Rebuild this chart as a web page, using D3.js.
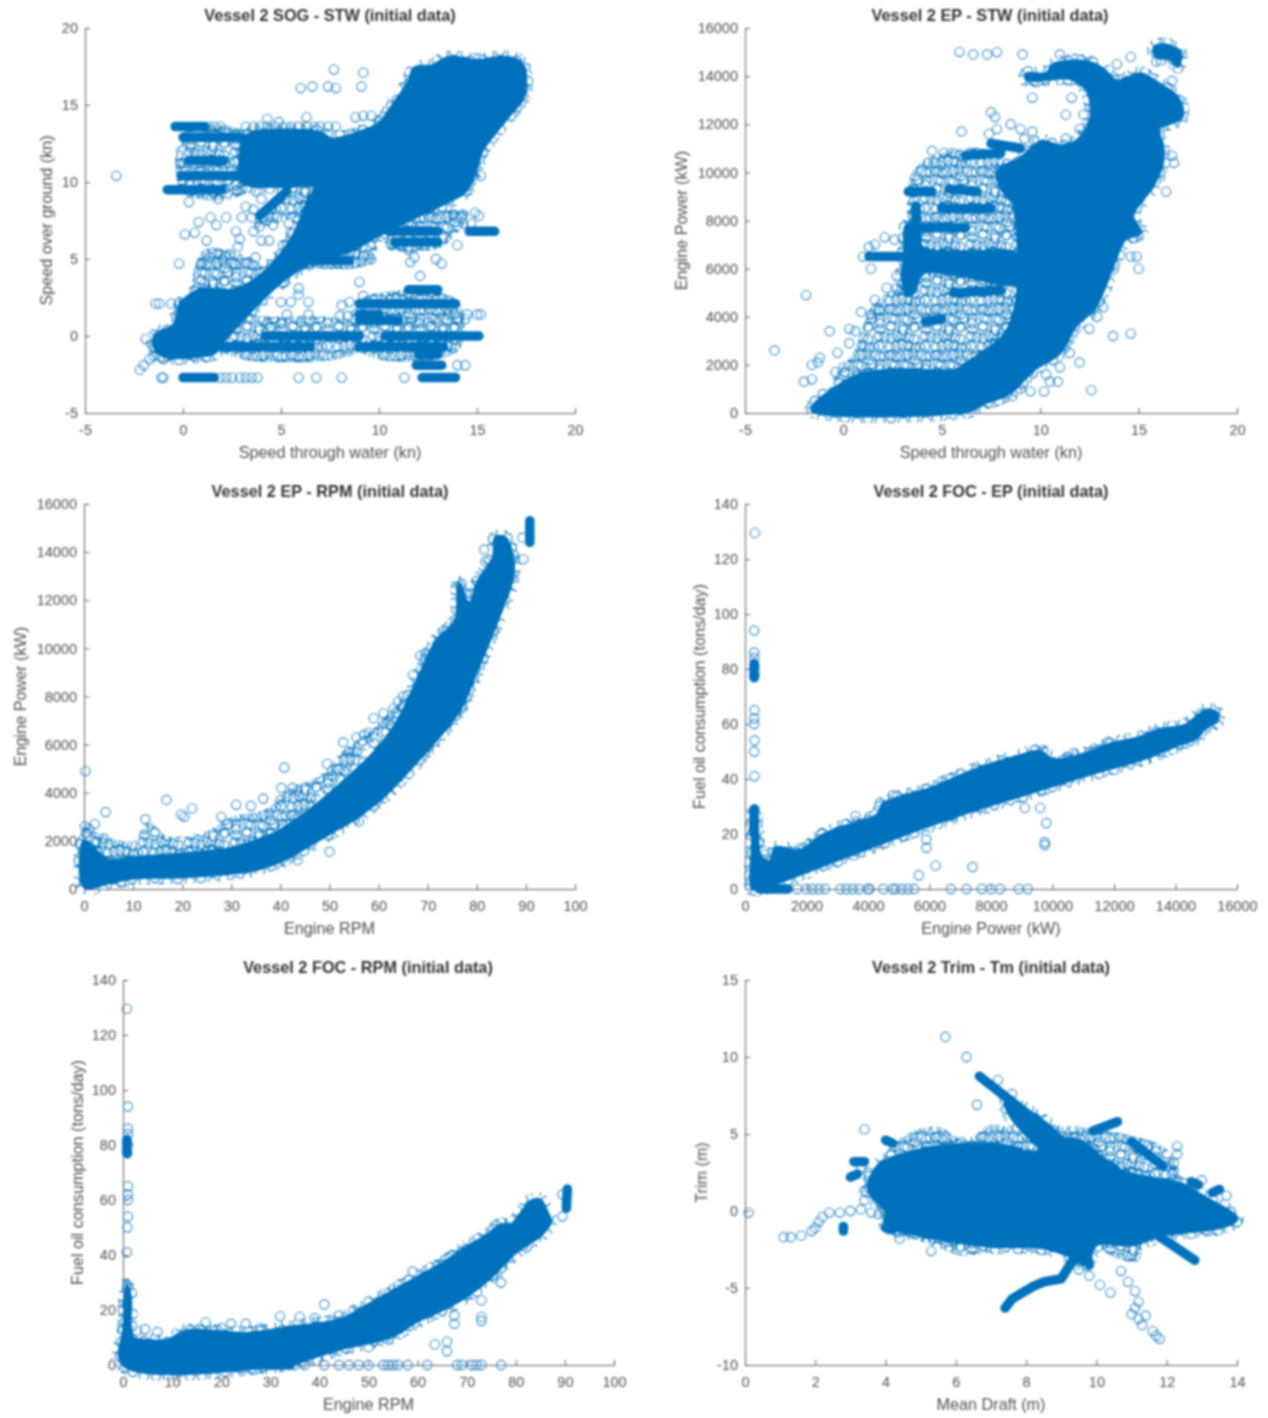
<!DOCTYPE html>
<html><head><meta charset="utf-8">
<script src="https://cdn.jsdelivr.net/npm/d3@7/dist/d3.min.js"></script>
<style>html,body{margin:0;background:#fff}svg{display:block}text{font-family:"Liberation Sans",Arial,sans-serif}</style>
</head><body><svg id="c" width="1268" height="1418"></svg>
<script>
// Values, in data units.
// *Dense   = outline of a region where the markers overlap completely (solid cloud)
// *Speckle = outline of a region full of overlapping markers that cannot be read one by one (drawn with a marker texture)
// *Streak  = run of merged markers, drawn as a thick line
// *Points  = individually visible markers
const sogStwDense=[[[-1.4,0.1],[-0.5,0.7],[-0.1,2.1],[0.9,3],[2.6,3],[4.1,4.1],[5.6,6.5],[6.3,8.6],[6.7,9.7],[5.2,9.7],[3,10],[2.9,11.5],[3.2,13],[7,13.2],[7.6,12.8],[8.9,13.2],[10,13.8],[10.7,15],[11.5,16.5],[11.8,17.4],[12.6,17.5],[13.6,18.1],[15,17.9],[16.4,18.1],[17.3,17.7],[17.4,15.6],[16.7,14.4],[15.8,13],[15.3,12.1],[14.5,9.5],[13.5,8.7],[11.5,7.5],[9.8,6.4],[8.5,5.5],[7,5],[5.2,3.7],[2.3,0],[1.6,-1.1],[0.9,-1.3],[-1,-1.3],[-1.5,-0.6]]];
const sogStwSpeckle=[[[0,9.3],[0,13.2],[3.2,13.2],[3.2,9.3]],[[2,-1],[2,1.5],[4,1.3],[9,0.8],[9,-1]],[[9,-1],[9,2.3],[14,2.3],[14,-1]],[[0.6,2.8],[1,5.5],[2.5,5.5],[4,4.5],[3,3]],[[3.6,7],[4.5,8.7],[5.5,9.7],[6.5,9.7],[6,7.8],[5.4,7.6]],[[6,4.6],[9.6,4.7],[9.8,6.2],[7.5,5.5]],[[10.3,5.8],[13.2,5.8],[14.5,8],[11,7.5]]];
const sogStwStreak=[[[-0.4,13.6],[1.1,13.6]],[[0,12.9],[3,12.9]],[[0.3,11.4],[2.1,11.4]],[[-0.1,10.4],[3,10.4]],[[-0.8,9.5],[2,9.5]],[[3.9,7.8],[5.3,9.4]],[[10.5,6.8],[13,6.8]],[[10.8,6.1],[13,6.1]],[[14.6,6.8],[15.9,6.8]],[[6.6,4.9],[8.5,4.9]],[[11.5,3],[13,3]],[[9,2.1],[13.9,2.1]],[[0,2.1],[1.3,2.1]],[[9,1.4],[10,1.4]],[[9,1],[11,1]],[[10.3,0],[15.1,0]],[[4.2,0],[9,0]],[[9,-0.7],[13.3,-0.7]],[[2,-0.7],[6.5,-0.7]],[[12,-1.2],[13,-1.2]],[[11.9,-1.9],[13.2,-1.9]],[[12.2,-2.7],[13.9,-2.7]],[[0,-2.7],[1.6,-2.7]]];
const sogStwPoints=[[1.3,13.6],[1.6,13.6],[1.9,13.6],[3.2,13.6],[3.6,13.6],[3.9,13.6],[4.3,13.6],[4.7,13.6],[5.1,13.6],[5.5,13.6],[5.9,13.6],[6.3,13.6],[6.7,13.6],[7,13.6],[7.4,13.6],[7.8,13.6],[-3.4,10.4],[15.2,10.4],[14.8,10.4],[-2.2,-2.2],[-2,-1.9],[-1.7,-1.5],[-1.5,-1.3],[-1.9,-0.2],[-1.4,-0.8],[-1,-1.5],[-1.1,-2.7],[-1,-2.7],[1.9,-2.7],[2.2,-2.7],[2.5,-2.7],[2.9,-2.7],[3.2,-2.7],[3.5,-2.7],[3.8,-2.7],[5.9,-2.7],[6.8,-2.7],[8.1,-2.7],[11.3,-2.7],[14,-1.9],[14.4,-1.9],[6,16.1],[6.6,16.2],[7.4,16.2],[7.8,16.1],[7.7,17.3],[9.2,17.1],[9.1,16.2],[4.3,14.1],[4.9,13.9],[6.3,14.2],[8.8,14.2],[9.2,14.3],[9.6,14.3],[10,14],[0.4,12.2],[-0.1,11.2],[0.3,8.7],[1.8,8.9],[0.1,6.6],[0.6,6.7],[0.8,7.4],[1.2,6.2],[-0.2,4.7],[0.9,4.6],[1.4,5.1],[1.1,3.4],[2,5],[2.4,5.3],[2.6,4.7],[3.7,5.1],[2.7,6.8],[2.9,6.3],[2.8,5.8],[3.6,6.8],[3.9,7.1],[4,6.2],[4.4,6.2],[1.4,7.7],[1.7,7.2],[2.2,7.7],[3,7.7],[3.5,7.7],[4.6,7.2],[5.4,7.3],[5.5,6.7],[5.1,5.9],[5.9,3.1],[5.9,2.7],[5.2,3.5],[5,2.2],[5.5,2.2],[6.4,2.2],[5.3,1.4],[6.4,1.4],[6,0.9],[5,0.8],[4.3,0.8],[-1.4,2.1],[-1.2,2.1],[-0.6,2.1],[-0.2,2.1],[2.8,1.4],[8.1,2],[8.5,2.2],[8,1.3],[8.4,1.3],[8.8,1.4],[9.2,2.6],[9,3.5],[12.1,3.9],[11.6,4.8],[11.8,5.1],[12.9,5],[13.2,4.7],[11.5,5.6],[14,5.9],[14.3,7.3],[14.7,7.3],[13.8,7.9],[14.3,7.9],[14.9,8],[15.1,7.8],[9.6,5],[14.5,1.4],[15,1.4],[15.2,1.4],[14,1],[14.4,1.1],[13.5,1.4],[12.5,0.9],[13,0.9],[11.6,0.9],[11.9,0.9],[3.2,8.4],[3.6,8.2],[4,8.9],[3,9.5],[3.7,9.4],[2.8,9.5],[4.5,8.3]];

const epStwDense=[[[-1.6,100],[6.5,100],[7,350],[8.4,800],[9.7,1800],[11,2500],[11.8,3600],[12.8,4400],[13.7,6100],[14.3,7200],[15.1,7500],[14.7,8200],[15.7,9400],[16.2,10300],[16.2,11200],[16,11800],[17.2,12300],[17,13100],[16,13700],[15.1,14100],[13.9,13800],[13.2,14300],[12.4,14600],[10.7,14500],[10.3,14100],[9.3,14100],[9.3,13850],[11.5,13900],[12.3,13500],[12.6,12400],[12,11400],[11,11100],[10.1,11300],[9,10600],[7.8,10000],[8.4,8900],[8.6,8800],[8.8,4700],[8.2,3300],[6.5,2200],[5.7,1800],[2.7,1800],[0.8,1600],[-0.6,950],[-1.5,350]],[[3,5600],[3.2,4900],[3.6,5000],[4,5800],[6,5700],[8.8,5400],[8.8,6600],[6.5,6700],[4,6900],[3.8,7800],[3.2,7800],[3.1,6600]],[[15.8,15200],[16.3,15300],[17.1,15000],[17,14400],[16.6,14700],[15.9,14800]]];
const epStwSpeckle=[[[-0.5,1400],[0.5,2500],[1.5,4500],[3,5500],[3.2,8000],[3.5,10000],[5,10800],[7.8,10800],[8.8,8000],[8.8,4000],[7,2500],[5,1700],[1,1500]]];
const epStwStreak=[[[1.3,6500],[3,6500]],[[4,7700],[6.2,7700]],[[5,8500],[7.5,8500]],[[3.3,9200],[4.5,9200]],[[6.2,10700],[8,10800]],[[7.5,11200],[9,11000]],[[3.7,8600],[3.7,8000]],[[4.2,3800],[5,3900]],[[5.6,5000],[8,5100]],[[5.4,9300],[6.8,9200]]];
const epStwPoints=[[7.4,11600],[7.7,12300],[7.5,12500],[6,11700],[8.5,12000],[7.8,11800],[9,11800],[9.6,11700],[9.7,11300],[9.2,11400],[5.9,15000],[6.6,14900],[7.3,14900],[7.8,15000],[9.1,14900],[11,14900],[14.6,14800],[13.9,14500],[15.9,14600],[9.6,13100],[11.6,13100],[11.3,12400],[12.2,12400],[12,11800],[11.3,11400],[16.8,10400],[16.7,10700],[16.4,9200],[16.7,13800],[15,7400],[14.9,6500],[15,6000],[14.6,6500],[13.7,3200],[14.6,3300],[13.2,4400],[12.9,4000],[12.5,3500],[12,2100],[12.6,950],[10.2,900],[9.5,900],[11,1900],[11.5,2500],[10.5,1300],[10.9,1300],[10.3,1600],[8.6,700],[9,1000],[-3.5,2600],[-1.9,4900],[-0.7,3400],[-1.2,2300],[-1.6,2000],[-1.3,2100],[-2,1300],[-1.6,1400],[-0.3,2500],[-0.4,1700],[0,1900],[0.3,3500],[0.6,3400],[0.3,2900],[0.9,4200],[1.4,4100],[1.6,4700],[1.8,4300],[2.2,5200],[2.7,5200],[2.7,5700],[1,6500],[1.3,6900],[1.6,7000],[2.1,7300],[2.6,7200],[1.4,6000],[4.5,10900],[4.3,10400],[4.9,10300],[5.1,10800],[5.5,10800],[6.1,10600]];

const epRpmDense=[[[0,100],[5,250],[10,450],[20,500],[30,650],[35,800],[40,1150],[45,1700],[50,2300],[55,2900],[60.8,3800],[68.6,5470],[76.4,7400],[80.3,9200],[84.2,11150],[87.3,12950],[87.3,13800],[85.8,14600],[83.8,14600],[83.4,13800],[80.3,12800],[78.4,11850],[76.4,12700],[75.6,11150],[71.7,10300],[67.8,8650],[63.9,7000],[59.2,5700],[53,4500],[46.7,3400],[40.5,2500],[35,2000],[30,1700],[22,1500],[10,1300],[5,1200],[2,1700],[0,2000]]];
const epRpmSpeckle=[[[0,1500],[0,2600],[3,2300],[10,2000],[13,2800],[17,2200],[25,2400],[30,3000],[37,3300],[42,4200],[48,4700],[53,5800],[58,6500],[62,7300],[66,8000],[62,6800],[50,4200],[40,2500],[30,1700],[10,1200]]];
const epRpmStreak=[[[90.8,14400],[90.8,15300]]];
const epRpmPoints=[[0.3,4900],[4.4,3200],[16.8,3700],[2.2,2700],[0.2,2600],[1,2500],[2.3,2000],[4,2100],[12.5,2900],[19.8,3100],[20.4,3000],[22,3350],[28,3000],[31,3500],[34,3450],[36.5,3750],[40,3700],[40.2,4200],[40.8,5050],[42.5,4200],[43.5,4100],[49.5,5200],[50.5,4700],[52.8,6100],[54,5700],[55.5,6300],[57,6400],[58,6500],[59,7100],[61,7300],[62,7000],[63,7500],[64,7800],[65,8000],[67,8900],[68.5,9700],[69.5,9800],[68.7,9100],[70.5,9300],[72,10200],[73,10700],[76.5,12600],[76.8,12100],[78.8,12300],[80,12800],[81.8,13600],[81.5,14100],[89.3,14600],[89.5,13700],[87.5,13900],[76.8,7800],[76.8,7500],[69.8,6100],[70,5900],[56,2800],[50,1550],[43.5,1200],[40.5,1250],[65,4900]];

const focEpDense=[[[200,1],[250,0],[500,0],[1000,2],[3000,10.5],[5000,19],[7000,27],[9000,34],[11000,41],[13000,47.5],[14000,52],[14700,55],[15000,59],[15350,61],[15350,64],[15000,65],[14300,59.5],[13500,58],[12800,55],[11800,52.5],[11000,49],[10000,47],[9600,50],[8800,48],[7500,43.5],[6000,36.5],[4500,31],[4300,27],[3000,22],[2500,19.5],[1800,14],[1000,15],[800,10],[500,12],[400,22],[280,28],[250,18]]];
const focEpSpeckle=[];
const focEpStreak=[[[300,77],[300,82]],[[300,20],[300,29]],[[500,0],[1400,0]]];
const focEpPoints=[[320,129.5],[300,94],[300,86],[300,84],[310,81],[300,80],[310,78],[300,77],[310,65],[300,62],[300,60],[310,54],[300,50],[310,41],[310,29],[300,28],[300,25],[300,22],[650,12.5],[1700,0],[2000,0],[2200,0],[2400,0],[2600,0],[3100,0],[3300,0],[3500,0],[3700,0],[4000,0],[4050,0],[4500,0],[4800,0],[4900,0],[5100,0],[5300,0],[5500,0],[6700,0],[7200,0],[7700,0],[8000,0],[8300,0],[8900,0],[9200,0],[5650,5],[5900,15],[5900,18],[6200,8.5],[7400,8],[9100,29.5],[9600,29.5],[9800,24],[9750,17],[9750,16],[3600,26.5],[4400,31.5],[4800,34],[5900,36.5],[6400,39],[9700,50.5],[10500,48],[10700,49.5],[11400,50],[11800,53.5],[2500,20],[2100,16.5],[1900,15]];

const focRpmDense=[[[0,0],[35,0.8],[40,3.5],[45,6.2],[50,8],[55,10.5],[60,16],[65,20],[70,25],[75,32],[80,41],[85,47],[87,52],[86,57],[85,60],[83,59.5],[81,55],[79,51],[77,51],[74,47],[70,43],[66,38],[60,32],[55,27],[50,22],[45,17],[40,15],[35,14],[25,11.5],[13,12.5],[9,9],[5,9],[2,10],[1.5,25],[0.8,29],[0.3,15]]];
const focRpmSpeckle=[];
const focRpmStreak=[[[90.3,57],[90.5,64]],[[0.8,77],[0.8,82]],[[20,0],[34,0]]];
const focRpmPoints=[[0.8,129.5],[1,94],[1,86],[1,84],[0.8,81],[1,80],[0.8,78],[0.9,77],[1,65],[1,62],[1,60],[1,54],[0.9,50],[0.8,41],[0.9,29],[0.8,28],[0,20],[0,13],[2.8,12.5],[4.5,13],[7,12],[16.8,15.5],[20,13.5],[22,15],[25,15],[28,13.5],[32,17.7],[36,17.5],[41,22],[44,18],[39,17],[47,20],[50,23],[52,23],[54,26],[56,27.5],[58,28],[59,34],[64,36],[67,40],[69,41],[78.5,50],[76,51],[81,53],[89.5,62],[89.5,54],[73,23.5],[73,17.5],[73,16],[77,30],[67.5,18],[67.5,15],[66,8.5],[63.5,7.5],[66,5],[50,6.5],[30,0],[32,0],[35,0],[37,0],[41,0],[44,0],[46,0],[48,0],[50,0],[53,0],[54,0],[55,0],[56,0],[58,0],[62,0],[68,0],[69,0],[71,0],[72,0],[73,0],[77,0]];

const trimTmDense=[[[3.5,1.5],[3.8,3],[4.5,3.7],[6,4.3],[7.5,4.2],[8.2,3.8],[9,4.7],[9.6,4.5],[10.4,3],[11,2.4],[12.5,1.7],[13,1],[14,-0.5],[13.5,-1.1],[12,-1.5],[11,-2.2],[10,-2.2],[9.7,-3.5],[9.3,-3],[8.5,-2.4],[7,-2.3],[6,-2],[5,-1.6],[4,-0.9],[4,0],[3.7,0.7]],[[7.4,7.1],[8.25,6.2],[9,4.8],[9.3,3.5],[8.8,3.5],[7.6,6]]];
const trimTmSpeckle=[[[3.7,2],[4.2,4.3],[5.4,5.5],[6.3,4.6],[7,5.6],[7.8,5],[8.4,3.5],[7,3.8],[5,3.5]],[[9,5.4],[10.3,5.2],[12,4],[12.3,2],[10.5,2.6],[9.6,4]],[[4,-1],[5.3,-2.2],[6.3,-2.9],[7,-2.4],[7,-1.7],[5,-1]],[[10,-1.9],[10.4,-2.9],[11.2,-3.2],[11.2,-1.8]]];
const trimTmStreak=[[[6.67,8.75],[9,4.6]],[[7.4,-6.3],[7.6,-5.7],[8.2,-4.9],[8.5,-4.6],[9,-4.4],[9.3,-3.3],[9.8,-2.5]],[[11,4.5],[11.9,2.9]],[[11.5,-1.2],[12.8,-3.2]],[[9.7,-2.5],[9.8,-3.5]],[[9.9,5.2],[10.6,5.8]],[[9.3,4],[10.5,2.8]],[[3.1,3.2],[3.4,3.2]],[[3,2.2],[3.2,2.4]],[[2.8,-1],[2.8,-1.3]],[[4,-1.1],[4.2,-1.2]],[[13.3,1.2],[13.5,1.4]],[[12.7,1.9],[12.9,1.7]],[[4,4.6],[4.2,4.4]]];
const trimTmPoints=[[5.7,11.3],[6.3,10],[6.6,6.9],[7.2,8.5],[7.6,7.6],[3.4,5.3],[0.1,-0.1],[1.1,-1.7],[1.3,-1.7],[1.6,-1.6],[1.9,-1.3],[2,-1.1],[2.1,-0.7],[2.2,-0.4],[2.4,-0.1],[2.7,-0.1],[3,0],[3.3,0.1],[3.4,0.7],[3.4,1.3],[3.6,-0.1],[3.8,-0.2],[3.9,0.2],[3.3,2.8],[3.5,2.5],[5.3,-2.6],[4.4,-1.8],[9.5,-3.8],[9.8,-4.2],[10.1,-4.8],[10.4,-5.3],[10.7,-3.9],[10.9,-4.6],[11.1,-5.2],[11.2,-5.9],[11.1,-6.3],[11,-6.7],[11.2,-7],[11.4,-6.8],[11.3,-7.4],[11.6,-7.8],[11.7,-8.1],[11.8,-8.3],[12.3,4.2],[12.3,3.7],[12.2,3.1],[12.2,2.6],[12.3,2],[13,2],[13.7,1]];

// Hand-placed marker texture for the *Speckle regions, and the radius shared by all markers.
const textureCircles=[[6,7],[17,4],[29,8],[40,5],[11,15],[23,14],[35,16],[5,24],[16,25],[28,23],[41,26],[10,34],[22,35],[33,33],[6,42],[18,42],[30,43],[41,38]];
const textureSize=46, markerRadius=4.6;

const panels=[
 {t:"Vessel 2 SOG - STW (initial data)",xl:"Speed through water (kn)",yl:"Speed over ground (kn)",xd:[-5,20],yd:[-5,20],xt:[-5,0,5,10,15,20],yt:[-5,0,5,10,15,20],r:[85,575,413,28],tx:330,yx:52,d:sogStwDense,k:sogStwSpeckle,s:sogStwStreak,p:sogStwPoints},
 {t:"Vessel 2 EP - STW (initial data)",xl:"Speed through water (kn)",yl:"Engine Power (kW)",xd:[-5,20],yd:[0,16000],xt:[-5,0,5,10,15,20],yt:[0,2000,4000,6000,8000,10000,12000,14000,16000],r:[745,1237,413,28],tx:990,yx:687,d:epStwDense,k:epStwSpeckle,s:epStwStreak,p:epStwPoints},
 {t:"Vessel 2 EP - RPM (initial data)",xl:"Engine RPM",yl:"Engine Power (kW)",xd:[0,100],yd:[0,16000],xt:[0,10,20,30,40,50,60,70,80,90,100],yt:[0,2000,4000,6000,8000,10000,12000,14000,16000],r:[84,575,889,504],tx:330,yx:26,d:epRpmDense,k:epRpmSpeckle,s:epRpmStreak,p:epRpmPoints},
 {t:"Vessel 2 FOC - EP (initial data)",xl:"Engine Power (kW)",yl:"Fuel oil consumption (tons/day)",xd:[0,16000],yd:[0,140],xt:[0,2000,4000,6000,8000,10000,12000,14000,16000],yt:[0,20,40,60,80,100,120,140],r:[745,1237,889,504],tx:991,yx:705,d:focEpDense,k:focEpSpeckle,s:focEpStreak,p:focEpPoints},
 {t:"Vessel 2 FOC - RPM (initial data)",xl:"Engine RPM",yl:"Fuel oil consumption (tons/day)",xd:[0,100],yd:[0,140],xt:[0,10,20,30,40,50,60,70,80,90,100],yt:[0,20,40,60,80,100,120,140],r:[123,614,1365,980],tx:368,yx:83,d:focRpmDense,k:focRpmSpeckle,s:focRpmStreak,p:focRpmPoints},
 {t:"Vessel 2 Trim - Tm (initial data)",xl:"Mean Draft (m)",yl:"Trim (m)",xd:[0,14],yd:[-10,15],xt:[0,2,4,6,8,10,12,14],yt:[-10,-5,0,5,10,15],r:[745,1237,1365,980],tx:991,yx:707,d:trimTmDense,k:trimTmSpeckle,s:trimTmStreak,p:trimTmPoints}
];
const markerColor="#0072BD", inkColor="#505050";
const svg=d3.select("#c");
const defs=svg.append("defs");
const f=defs.append("filter").attr("id","soft").attr("filterUnits","userSpaceOnUse").attr("x",0).attr("y",0).attr("width",1268).attr("height",1418);
f.append("feGaussianBlur").attr("stdDeviation",0.8);
[["speckle",0,0],["speckle2",11,9]].forEach(([id,dx,dy])=>{
  const pat=defs.append("pattern").attr("id",id).attr("patternUnits","userSpaceOnUse").attr("width",textureSize).attr("height",textureSize).attr("patternTransform",`translate(${dx},${dy})`);
  pat.selectAll("circle").data(textureCircles).join("circle").attr("cx",d=>d[0]).attr("cy",d=>d[1]).attr("r",markerRadius).attr("fill","none").attr("stroke",markerColor).attr("stroke-width",1.1);
});
const root=svg.append("g").attr("filter","url(#soft)");
panels.forEach(P=>{
  const [x0,x1,y0,y1]=P.r;
  const x=d3.scaleLinear().domain(P.xd).range([x0,x1]), y=d3.scaleLinear().domain(P.yd).range([y0,y1]);
  const g=root.append("g");
  const line=d3.line().x(d=>x(d[0])).y(d=>y(d[1]));
  const area=d3.line().x(d=>x(d[0])).y(d=>y(d[1])).curve(d3.curveCatmullRomClosed.alpha(0.5));
  const ax=g.append("g").attr("transform",`translate(0,${y0})`).call(d3.axisBottom(x).tickValues(P.xt).tickFormat(String).tickSize(-5).tickPadding(12));
  const ay=g.append("g").attr("transform",`translate(${x0},0)`).call(d3.axisLeft(y).tickValues(P.yt).tickFormat(String).tickSize(-5).tickPadding(7));
  [ax,ay].forEach(a=>{a.selectAll("path,line").attr("stroke",inkColor).attr("stroke-width",0.9);a.selectAll("text").attr("fill",inkColor).style("font-size","14.5px").style("font-family",'"Liberation Sans",Arial,sans-serif');});
  ["speckle","speckle2"].forEach(id=>{
    g.append("g").selectAll("path").data(P.k).join("path").attr("d",area).attr("fill",`url(#${id})`).attr("stroke","none");
  });
  g.append("g").selectAll("path").data(P.d).join("path").attr("d",area).attr("fill","none").attr("stroke","url(#speckle)").attr("stroke-width",14);
  g.append("g").selectAll("path").data(P.d).join("path").attr("d",area).attr("fill",markerColor).attr("stroke",markerColor).attr("stroke-width",3).attr("stroke-linejoin","round");
  g.append("g").selectAll("path").data(P.s).join("path").attr("d",line).attr("fill","none").attr("stroke",markerColor).attr("stroke-width",9.5).attr("stroke-linecap","round").attr("stroke-linejoin","round");
  g.append("g").selectAll("circle").data(P.p).join("circle").attr("cx",d=>x(d[0])).attr("cy",d=>y(d[1])).attr("r",markerRadius).attr("fill","none").attr("stroke",markerColor).attr("stroke-opacity",0.85).attr("stroke-width",1.1);
  g.append("text").attr("x",P.tx).attr("y",y1-8).attr("dy",1).attr("text-anchor","middle").attr("font-weight","bold").attr("font-size",16.3).attr("fill","#333").text(P.t);
  g.append("text").attr("x",(x0+x1)/2).attr("y",y0+45).attr("text-anchor","middle").attr("font-size",16.2).attr("fill",inkColor).text(P.xl);
  g.append("text").attr("transform",`translate(${P.yx},${(y0+y1)/2}) rotate(-90)`).attr("text-anchor","middle").attr("font-size",16.2).attr("fill",inkColor).text(P.yl);
});
</script></body></html>
